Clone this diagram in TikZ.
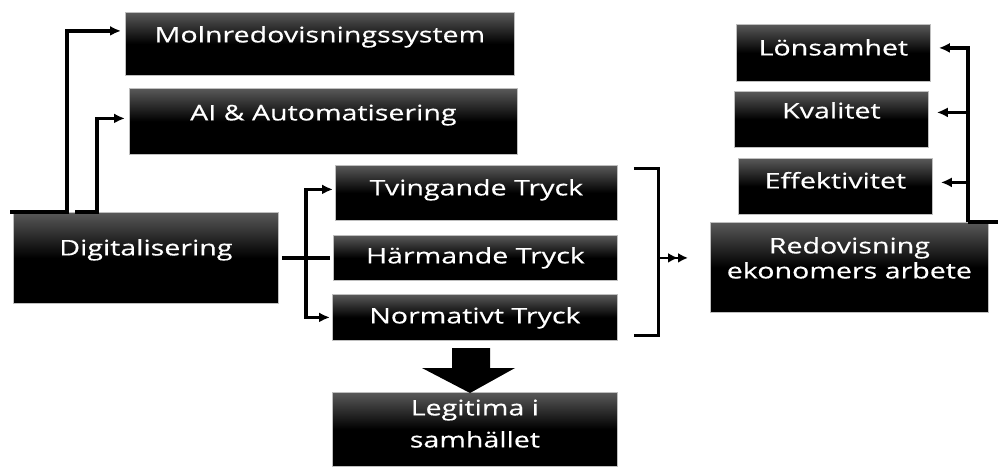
\documentclass[tikz,border=0pt]{standalone}
\usepackage{fontspec}
\setmainfont{Open Sans}[FakeStretch=1.33,UprightFeatures={FakeBold=0.4}]
\usetikzlibrary{arrows.meta}
\tikzset{
  >={Latex[length=11pt,width=10pt]},
  box/.style={draw=black!25, line width=.8pt, top color=black!65,
    bottom color=black, middle color=black, text=white,
    inner sep=0pt, anchor=north west, align=center,
    font=\fontsize{21.5}{32}\selectfont},
  conn/.style={line width=3.5pt}
}
\begin{document}
\begin{tikzpicture}[x=1pt,y=-1pt]
  \useasboundingbox (0,0) rectangle (998,466);
  % left column
  \node[box, minimum width=389pt, text height=30pt, text depth=33pt] (molnsys) at (125,12) {Molnredovisningssystem};
  \node[box, minimum width=388pt, text height=32pt, text depth=34pt] (aiauto) at (129,88) {AI \& Automatisering};
  \node[box, minimum width=265pt, text height=43pt, text depth=48pt] (digital) at (13,212) {Digitalisering};
  % pressures
  \node[box, minimum width=282pt, text height=30pt, text depth=25pt] (tving) at (335,165) {Tvingande Tryck};
  \node[box, minimum width=284pt, text height=28pt, text depth=17pt] (harm) at (333,235) {Härmande Tryck};
  \node[box, minimum width=285pt, text height=29pt, text depth=17pt] (norm) at (332,294) {Normativt Tryck};
  \node[box, minimum width=285pt, text height=55pt, text depth=19pt] (legit) at (332,392) {Legitima i\\samhället};
  % right column
  \node[box, minimum width=194pt, text height=31pt, text depth=26pt] (lons) at (736,24) {Lönsamhet};
  \node[box, minimum width=194pt, text height=27pt, text depth=29pt] (kval) at (734,91) {Kvalitet};
  \node[box, minimum width=194pt, text height=30pt, text depth=26pt] (effekt) at (738,158) {Effektivitet};
  \node[box, minimum width=278pt, text height=56pt, text depth=34pt,
    font=\fontsize{21.5}{25}\selectfont] (redov) at (710,222) {Redovisning\\ekonomers arbete};

  % connectors
  \draw[conn,->,shorten >=4pt] ([xshift=-3pt]digital.north west) -- ++(57,0) |- ([yshift=13pt]molnsys.west);
  \draw[conn,->,shorten >=4pt] ([xshift=62pt]digital.north west) -- ++(22,0) |- ([yshift=3pt]aiauto.west);
  \draw[conn,shorten <=3pt,shorten >=3pt] (digital.east) -- (harm.west);
  \coordinate (split) at ([xshift=27pt]digital.east);
  \draw[conn,->,shorten >=2pt] (split) |- ([yshift=3.5pt]tving.west);
  \draw[conn,->,shorten >=2pt] (split) |- (norm.west);

  % bracket
  \draw[line width=3pt] ([xshift=16pt,yshift=-3pt]tving.north east) -| ([xshift=41pt,yshift=5pt]norm.south east) -- ++(-25,0);
  \coordinate (brk) at ([xshift=41pt]harm.east);
  \draw[line width=2.5pt,-{Latex[length=10pt,width=10pt]Latex[length=10pt,width=10pt]},shorten >=22pt] (brk) -- (brk -| redov.west);

  % big arrow down
  \fill (452,348) -- (490,348) -- (490,368) -- (515,368) -- (470,393) -- (422,368) -- (452,368) -- cycle;

  % outcomes
  \coordinate (rin) at ([xshift=10pt]redov.north east);
  \coordinate (rbus) at ([xshift=-21pt]redov.north east);
  \draw[conn] (rin) -- (rbus);
  \draw[conn,->,shorten >=8pt] (rbus) |- ([yshift=5pt]lons.east);
  \draw[conn,->,shorten >=8pt] (rbus) |- ([yshift=7pt]kval.east);
  \draw[conn,->,shorten >=8pt] (rbus) |- ([yshift=4pt]effekt.east);
\end{tikzpicture}
\end{document}
